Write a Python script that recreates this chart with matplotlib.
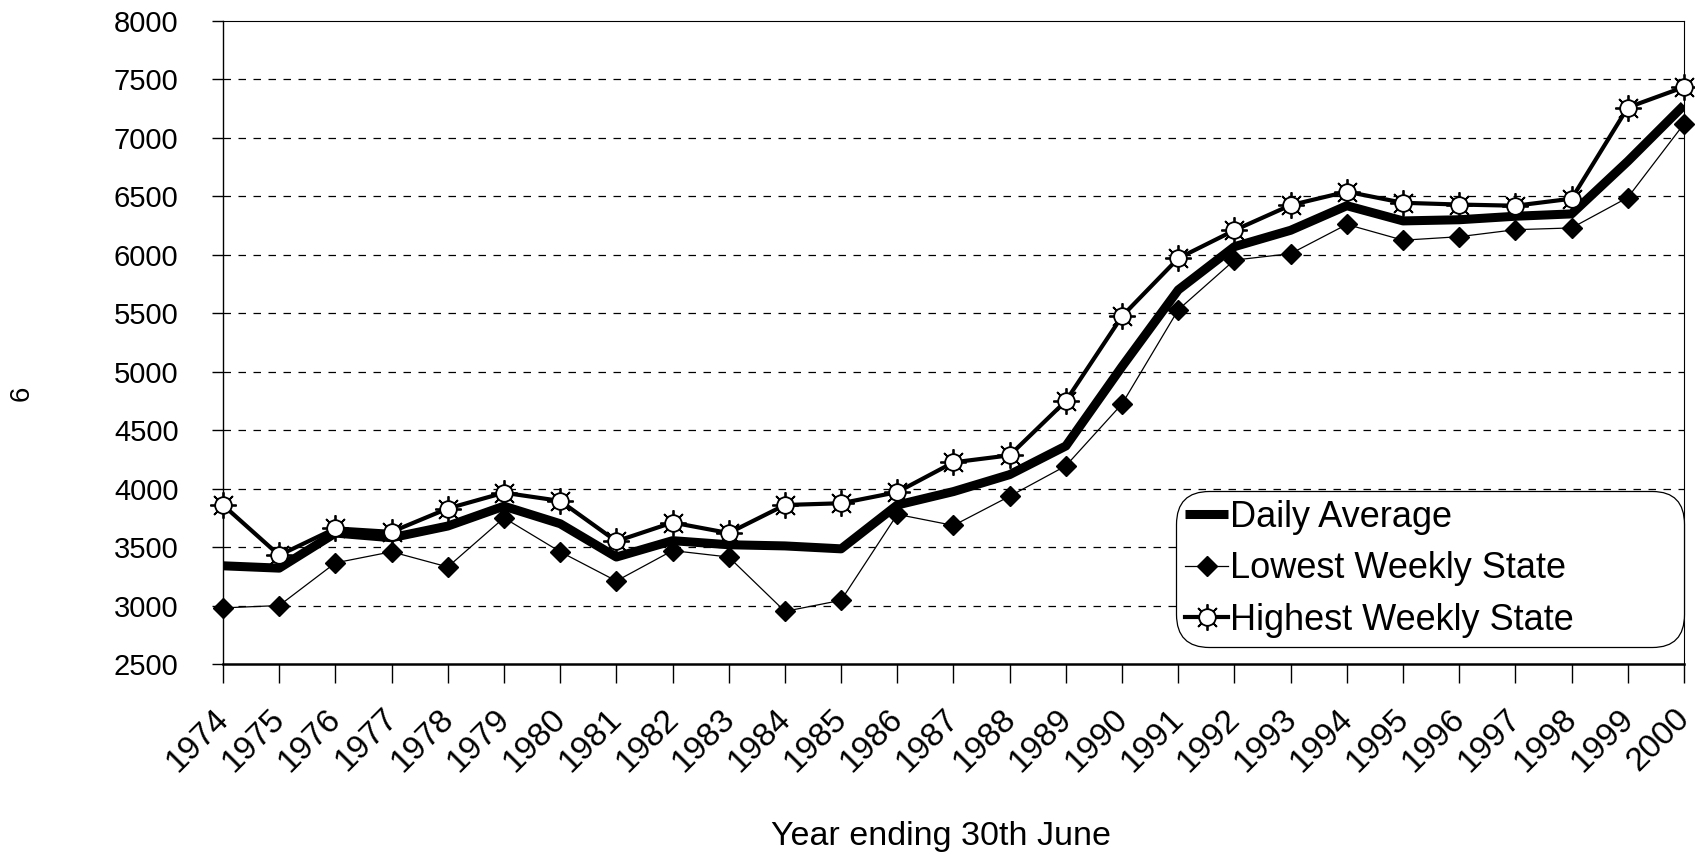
import matplotlib
matplotlib.use("Agg")
import matplotlib.pyplot as plt
import matplotlib.transforms as mtransforms
from matplotlib.lines import Line2D
from matplotlib.legend_handler import HandlerTuple

plt.rcParams['font.family'] = ['Liberation Sans', 'DejaVu Sans']

years = list(range(1974, 2001))
daily_average = [3340, 3320, 3620, 3580, 3680, 3850, 3700, 3415, 3555, 3520,
                 3510, 3485, 3860, 3975, 4120, 4365, 5045, 5700, 6070, 6210,
                 6420, 6290, 6300, 6330, 6350, 6800, 7280]
lowest_weekly = [2980, 3000, 3365, 3460, 3330, 3750, 3460, 3210, 3470, 3415,
                 2950, 3045, 3780, 3685, 3935, 4195, 4725, 5530, 5955, 6010,
                 6260, 6125, 6155, 6215, 6230, 6490, 7120]
highest_weekly = [3860, 3430, 3660, 3630, 3830, 3965, 3895, 3550, 3710, 3620,
                  3860, 3875, 3970, 4225, 4285, 4750, 5475, 5970, 6210, 6425,
                  6540, 6445, 6430, 6420, 6480, 7260, 7435]
y_ticks = list(range(2500, 8001, 500))

fig = plt.figure(figsize=(16.95, 8.55), dpi=100)
ax = fig.add_axes([223 / 1695, 1 - 664 / 855, (1684 - 223) / 1695, (664 - 21) / 855])

# grid
for v in y_ticks[1:-1]:
    ax.axhline(v, color='black', lw=0.9, dashes=(6, 6), zorder=1)

# lines
ax.plot(years, highest_weekly, color='black', lw=3, zorder=3)
ax.plot(years, daily_average, color='black', lw=6.5, zorder=4, solid_capstyle='butt')
ax.plot(years, lowest_weekly, color='black', lw=0.9, marker='D', markersize=10,
        zorder=5, clip_on=False)
# sun markers: rays + open circle
ax.plot(years, highest_weekly, ls='none', marker=(8, 2, 0), markersize=19,
        color='black', markeredgewidth=1.3, zorder=6, clip_on=False)
ax.plot(years, highest_weekly, ls='none', marker='o', markersize=12,
        markerfacecolor='white', markeredgecolor='black', markeredgewidth=1.3,
        zorder=7, clip_on=False)

ax.set_xlim(1974, 2000)
ax.set_ylim(2500, 8000)
ax.set_yticks(y_ticks)
ax.set_xticks(years)
ax.set_xticklabels([str(y) for y in years], rotation=45, ha='right',
                   rotation_mode='anchor', fontsize=24)
ax.tick_params(axis='x', direction='out', length=14, width=1, pad=12)
ax.tick_params(axis='y', direction='out', length=8, width=1, pad=24, labelsize=21)
shift = mtransforms.ScaledTranslation(-10 / 100, -3 / 100, fig.dpi_scale_trans)
for lbl in ax.get_xticklabels():
    lbl.set_transform(lbl.get_transform() + shift)

ax.spines['left'].set_linewidth(1.0)
ax.spines['bottom'].set_linewidth(1.8)
ax.spines['top'].set_linewidth(0.8)
ax.spines['top'].set_linestyle((0, (2, 1)))
ax.spines['right'].set_linewidth(0.8)

fig.text(941 / 1695, 1 - 836 / 855, 'Year ending 30th June',
         fontsize=24.5, ha='center', va='center')
fig.text(22 / 1695, 1 - 393 / 855, '6', fontsize=20, rotation=90,
         ha='center', va='center')

# legend
h_daily = Line2D([], [], color='black', lw=6.5, solid_capstyle='butt')
h_low = Line2D([], [], color='black', lw=0.9, marker='D', markersize=10)
h_high_rays = Line2D([], [], color='black', lw=3, marker=(8, 2, 0), markersize=19,
                     markeredgewidth=1.3)
h_high_circ = Line2D([], [], ls='none', marker='o', markersize=12,
                     markerfacecolor='white', markeredgecolor='black',
                     markeredgewidth=1.3)
leg_left = 1176 / 1695
leg_top = 1 - 491 / 855
leg = ax.legend([h_daily, h_low, (h_high_rays, h_high_circ)],
                ['Daily Average', 'Lowest Weekly State', 'Highest Weekly State'],
                handler_map={tuple: HandlerTuple(ndivide=1)},
                loc='upper left', mode='expand',
                bbox_to_anchor=(leg_left, leg_top - 0.2, 1684 / 1695 - leg_left, 0.2),
                bbox_transform=fig.transFigure, borderaxespad=0,
                fontsize=26, handlelength=1.2, handletextpad=0.05,
                labelspacing=0.45, borderpad=0.25, fancybox=True, framealpha=1,
                edgecolor='black')
leg.get_frame().set_linewidth(0.9)
leg.get_frame().set_boxstyle('round', pad=0, rounding_size=0.9)
leg.set_zorder(10)

fig.savefig('out.png', dpi=100)
